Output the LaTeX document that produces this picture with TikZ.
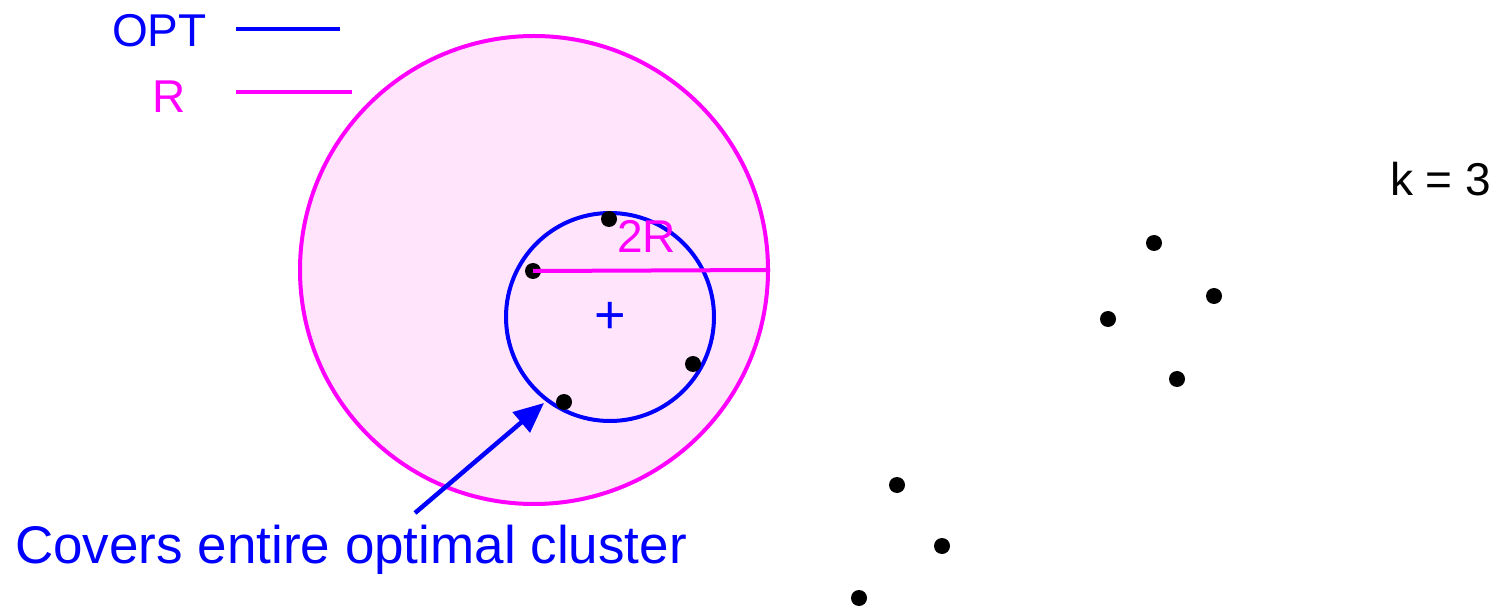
\documentclass[tikz,border=0pt]{standalone}
\usepackage{fontspec}
\setmainfont{Liberation Sans}
\usetikzlibrary{arrows.meta}
\definecolor{optblue}{RGB}{0,0,255}
\definecolor{rmag}{RGB}{255,0,255}
\definecolor{rfill}{RGB}{255,228,252}

\begin{document}
\begin{tikzpicture}[x=1pt,y=-1pt,
    every node/.style={font=\fontsize{46}{50}\selectfont},
    lbl/.style={anchor=base west,inner sep=0pt}]
\useasboundingbox (0,0) rectangle (1496,609);
% circles
\node (bigc) [circle,draw=rmag,fill=rfill,line width=4pt,inner sep=0pt,minimum size=468pt] at (534,270) {};
\node (optc) [circle,draw=optblue,line width=4pt,inner sep=0pt,minimum size=208pt] at (610,317) {};
\node (ctr) [text=optblue,inner sep=0pt,font=\fontsize{54}{58}\selectfont] at (610,318) {+};
% legend
\node (optlbl) [lbl,text=optblue] at (112,47) {OPT};
\node (rlbl) [lbl,text=rmag] at (152,113) {R};
\coordinate (ol1) at (236,29);
\coordinate (ol2) at (340,29);
\coordinate (rl1) at (236,92);
\coordinate (rl2) at (352,92);
\draw [optblue,line width=4pt] (ol1) -- (ol2);
\draw [rmag,line width=4pt] (rl1) -- (rl2);
\node (klbl) [lbl] at (1390,196) {k = 3};
\node (tworlbl) [lbl,text=rmag] at (617,253) {2R};
\node (covlbl) [lbl,text=optblue,font=\fontsize{53}{58}\selectfont] at (15,563) {Covers entire optimal cluster};
% points
\begin{scope}[every node/.style={circle,fill=black,inner sep=0pt,minimum size=16pt}]
    \node (p1) at (609,219) {};
    \node (p2) at (533,271) {};
    \node (p3) at (693,364) {};
    \node (p4) at (564,402) {};
    \node (q1) at (1154,243) {};
    \node (q2) at (1214,296) {};
    \node (q3) at (1108,319) {};
    \node (q4) at (1177,379) {};
    \node (q5) at (897,485) {};
    \node (q6) at (942,546) {};
    \node (q7) at (859,598) {};
\end{scope}
% radius and arrow
\draw [rmag,line width=4pt] (p2.center) -- (bigc.east);
\coordinate (atail) at (415,513);
\coordinate (ahead) at (544,403);
\draw [optblue,line width=4.5pt,-{Triangle[length=30pt,width=26pt]}] (atail) -- (ahead);
\end{tikzpicture}
\end{document}
